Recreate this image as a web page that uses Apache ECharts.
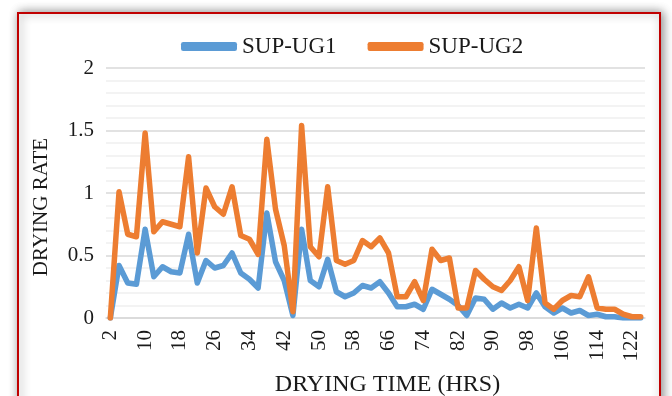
<!DOCTYPE html>
<html>
<head>
<meta charset="utf-8">
<script src="https://cdn.jsdelivr.net/npm/echarts@6/dist/echarts.min.js"></script>
<style>
html,body{margin:0;padding:0;background:#fff;}
#c{width:672px;height:396px;}
</style>
</head>
<body>
<div id="c"></div>
<script>
const categories = [];
for (let h = 2; h <= 124; h += 2) categories.push(String(h));

const seriesNames = ['SUP-UG1', 'SUP-UG2'];

const ug1 = [0, 0.42, 0.28, 0.27, 0.71, 0.33, 0.41, 0.37, 0.36, 0.67,
  0.28, 0.46, 0.40, 0.42, 0.52, 0.36, 0.31, 0.24, 0.84, 0.45,
  0.30, 0.02, 0.71, 0.30, 0.25, 0.47, 0.21, 0.17, 0.20, 0.26,
  0.24, 0.29, 0.20, 0.09, 0.09, 0.11, 0.07, 0.23, 0.19, 0.15,
  0.10, 0.02, 0.16, 0.15, 0.07, 0.12, 0.08, 0.11, 0.08, 0.20,
  0.09, 0.04, 0.08, 0.04, 0.06, 0.02, 0.03, 0.01, 0.01, 0.00,
  0.00, 0.00];

const ug2 = [0, 1.01, 0.67, 0.65, 1.48, 0.69, 0.77, 0.75, 0.73, 1.29,
  0.52, 1.04, 0.89, 0.83, 1.05, 0.66, 0.63, 0.51, 1.43, 0.87,
  0.58, 0.05, 1.54, 0.57, 0.49, 1.05, 0.46, 0.43, 0.46, 0.62,
  0.57, 0.64, 0.52, 0.17, 0.17, 0.29, 0.14, 0.55, 0.46, 0.48,
  0.08, 0.08, 0.38, 0.31, 0.25, 0.22, 0.30, 0.41, 0.14, 0.72,
  0.12, 0.07, 0.14, 0.18, 0.17, 0.33, 0.08, 0.07, 0.07, 0.03,
  0.01, 0.01];

const yTicks = [0, 0.5, 1, 1.5, 2];

const FONT = '"Liberation Serif", "DejaVu Serif", serif';
const chart = echarts.init(document.getElementById('c'));
chart.setOption({
  animation: false,
  backgroundColor: '#ffffff',
  textStyle: { fontFamily: FONT },
  graphic: [{
    type: 'rect', z: -10, silent: true,
    shape: { x: 18, y: 13, width: 642, height: 420 },
    style: { fill: '#ffffff', stroke: '#C00000', lineWidth: 2,
      shadowBlur: 10, shadowColor: 'rgba(0,0,0,0.45)', shadowOffsetX: 2, shadowOffsetY: 0 }
  }],
  legend: {
    left: 176, top: 30,
    itemWidth: 56, itemHeight: 9, itemGap: 31,
    icon: 'roundRect',
    textStyle: { fontFamily: FONT, fontSize: 23, color: '#1a1a1a' },
    data: seriesNames
  },
  grid: { left: 106, right: 27, top: 68, bottom: 78, containLabel: false, outerBoundsMode: 'none' },
  xAxis: {
    type: 'category', data: categories, boundaryGap: true,
    name: 'DRYING TIME (HRS)', nameLocation: 'middle', nameGap: 55,
    nameTextStyle: { fontFamily: FONT, fontSize: 24, color: '#1a1a1a', padding: [0, 0, 0, 24] },
    axisLine: { lineStyle: { color: '#D9D9D9', width: 1.5 } },
    axisTick: { show: false },
    axisLabel: { interval: 3, rotate: 90, margin: 12, fontFamily: FONT, fontSize: 21, color: '#1a1a1a' },
    splitLine: { show: false }
  },
  yAxis: {
    type: 'value', min: yTicks[0], max: yTicks[yTicks.length - 1], interval: 0.5,
    name: 'DRYING RATE', nameLocation: 'middle', nameGap: 54, nameRotate: 90,
    nameTextStyle: { fontFamily: FONT, fontSize: 21, color: '#1a1a1a', padding: [0, 28, 0, 0] },
    axisLine: { show: false }, axisTick: { show: false },
    axisLabel: { margin: 12, fontFamily: FONT, fontSize: 21, color: '#1a1a1a' },
    splitLine: { lineStyle: { color: '#D9D9D9', width: 1.5 } },
    minorTick: { show: false, splitNumber: 5 },
    minorSplitLine: { show: true, lineStyle: { color: '#F0F0F0', width: 1.5 } }
  },
  series: [
    { name: seriesNames[0], type: 'line', data: ug1, showSymbol: false, symbol: 'none',
      lineStyle: { color: '#5B9BD5', width: 5.5, cap: 'round', join: 'round' }, itemStyle: { color: '#5B9BD5' }, z: 3 },
    { name: seriesNames[1], type: 'line', data: ug2, showSymbol: false, symbol: 'none',
      lineStyle: { color: '#ED7D31', width: 5.5, cap: 'round', join: 'round' }, itemStyle: { color: '#ED7D31' }, z: 4 }
  ]
});
</script>
</body>
</html>
